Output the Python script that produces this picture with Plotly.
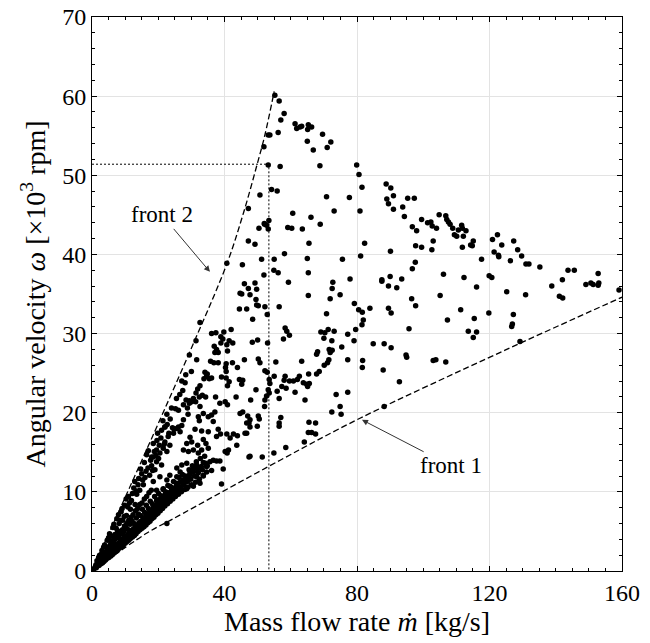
import plotly.graph_objects as go

# ---------------- data ----------------
# x: mass flow rate [kg/s], y: angular velocity [x10^3 rpm]
pts_upper = [(55.2,60.1),(56.5,59.4),(58.0,57.8),(57.0,57.0),(56.2,55.4),(53.2,55.1),(53.7,55.1),(51.9,53.6),
 (61.3,56.5),(61.8,55.9),(62.8,56.1),(63.3,56.2),(65.3,56.4),(66.3,56.1),(65.1,55.8),(69.6,55.2),(65.0,54.3),
 (72.1,54.2),(71.0,53.5),(66.8,53.2),(68.8,51.2),(53.2,51.3),(56.8,51.1),(79.9,51.3),(80.6,50.1),(81.5,48.5),
 (54.2,48.2),(55.9,48.0),(70.8,47.3),(77.7,47.2),(88.8,48.9),(90.2,48.4),(89.0,47.0),(89.5,46.4),(91.0,47.4),
 (91.0,45.7),(95.3,47.1),(97.3,47.1),(93.8,46.0),(94.3,44.8),(80.9,45.5),(73.1,45.5),(60.6,45.2),(66.1,44.7),
 (68.9,43.8),(59.1,43.4),(60.3,43.3),(63.5,43.2),(52.1,43.8),(53.4,44.3),(53.2,43.2),(65.5,41.4),(58.1,40.1),
 (65.0,39.5),(55.0,39.4),(51.2,39.4),(75.6,39.4),(81.1,39.8),(82.3,41.4),(90.1,40.4),(96.7,43.5),(98.0,43.0),
 (99.5,44.4),(101.3,44.0),(102.3,44.1),(102.7,43.6),(104.0,43.3),(104.8,45.0),(106.8,44.9),(107.1,44.4),
 (107.6,44.1),(108.1,43.8),(108.9,43.3),(109.4,42.5),(110.1,42.3),(97.7,41.1),(99.5,40.9),(103.0,41.7),
 (102.6,40.6),(97.6,39.0),(96.7,38.2),(106.1,37.5),(90.0,37.2),(93.5,36.9),(77.9,36.9),(87.5,36.8),(65.3,37.7),
 (54.9,38.0),(56.2,37.7),(51.9,37.4)]

pts_right = [(111.6,43.7),(111.8,43.3),(110.6,43.1),(112.9,43.0),(112.1,42.3),(111.8,40.9),(114.3,41.2),
 (114.8,41.1),(115.1,41.7),(117.6,39.4),(120.9,41.9),(122.4,42.5),(123.7,41.2),(121.4,40.3),(122.7,39.9),
 (122.8,39.7),(127.3,41.7),(128.5,40.6),(129.7,39.8),(126.3,39.2),(131.0,38.8),(131.9,38.8),(135.2,38.4),
 (138.8,36.0),(142.0,36.8),(143.7,38.0),(145.6,38.0),(141.1,34.7),(142.1,34.5),(149.1,36.2),(150.6,36.4),
 (151.3,36.2),(152.8,37.6),(152.8,36.1),(153.0,36.4),(159.1,35.5),(112.3,37.1),(116.1,35.9),(119.9,37.3),
 (120.7,37.1),(125.2,35.3),(130.9,34.9),(105.1,34.8),(111.3,33.0),(107.3,31.7),(115.4,31.9),(119.8,32.6),
 (127.2,32.4),(126.9,31.2),(126.7,30.9),(113.6,30.3),(116.1,30.2),(115.1,29.5),(129.2,29.0)]

pts_middle = [(59.3,36.5),(65.3,34.8),(72.7,36.5),(72.5,35.7),(71.9,34.4),(74.9,34.9),(52.2,33.4),(52.9,32.4),
 (56.5,33.4),(79.2,33.8),(80.5,33.0),(81.6,32.7),(81.9,31.7),(81.5,31.1),(83.9,33.2),(70.8,32.5),(87.5,36.6),
 (89.5,36.0),(92.0,35.8),(96.5,34.4),(97.7,33.5),(89.5,33.2),(90.3,32.6),(95.7,30.6),(58.3,30.7),(58.8,30.3),
 (59.6,29.8),(57.8,29.3),(69.1,30.2),(70.3,30.1),(71.3,30.5),(73.1,30.3),(70.0,29.4),(72.4,29.1),(77.2,29.9),
 (79.6,30.5),(79.1,29.1),(53.0,28.8),(71.6,28.0),(72.5,27.9),(71.9,27.6),(75.4,28.3),(84.9,28.7),(88.2,28.7),
 (90.3,28.2),(94.8,27.3),(95.0,27.0),(103.0,26.6),(103.8,26.7),(106.8,26.4),(68.1,27.7),(67.8,27.4),(71.5,26.7),
 (71.1,26.3),(70.1,26.0),(77.2,26.7),(81.7,26.6),(81.6,25.7),(87.9,25.4),(92.8,23.9),(63.3,26.5),(55.5,26.4),
 (52.2,25.3),(52.9,25.1),(68.6,25.2),(67.8,24.9),(65.4,24.9),(62.6,24.6),(62.0,24.2),(60.8,24.0),(59.6,24.0),
 (58.3,24.6),(58.0,24.1),(57.3,23.3),(58.6,23.1),(55.0,24.6),(63.8,23.8),(64.8,23.6),(65.6,23.7),(65.1,23.3),
 (64.3,21.6),(61.3,22.6),(55.9,22.7),(56.5,21.8),(53.2,22.9),(53.5,22.5),(52.7,22.1),(52.2,21.6),(52.1,20.8),
 (73.7,22.3),(77.2,22.6),(74.9,20.8),(75.2,19.8),(72.4,20.1),(88.2,20.8),(57.0,19.4),(56.5,18.7),(56.5,18.3),
 (65.5,18.8),(67.5,18.7),(65.3,17.5),(66.3,17.5),(67.5,17.3),(64.1,16.3),(58.5,15.6),(54.9,14.9),(51.4,14.4)]

pts_inner = [(46.0,36.3),(47.2,35.7),(49.2,36.4),(49.7,35.6),(44.7,35.1),(45.2,35.0),(47.7,34.9),(49.5,34.3),
 (49.7,33.6),(50.2,33.5),(44.5,33.1),(46.7,33.1),(48.5,31.8),(32.6,31.4),(36.1,30.0),(37.4,30.1),(39.8,30.2),
 (42.0,30.5),(38.9,29.6),(39.5,29.3),(38.9,28.8),(41.4,29.1),(42.5,28.8),(40.7,28.6),(40.9,27.8),(31.4,29.1),
 (36.9,28.4),(37.6,28.0),(38.1,27.6),(37.1,27.6),(48.4,28.9),(50.0,29.2),(29.4,27.3),(31.6,26.7),(35.8,26.5),
 (36.8,26.3),(38.1,26.3),(40.5,26.2),(42.4,26.3),(40.3,25.7),(40.5,25.2),(43.9,25.7),(46.0,26.7),(50.2,26.8),
 (50.7,26.3),(34.1,25.1),(34.8,24.9),(34.6,24.6),(33.8,24.3),(35.4,24.3),(36.1,24.4),(39.1,24.5),(40.5,24.4),
 (41.4,23.9),(40.9,23.4),(44.5,24.2),(45.5,24.1),(45.2,23.6),(27.1,24.0),(28.1,23.8),(32.6,23.4),(31.9,23.0),
 (31.4,22.5),(33.3,22.2),(32.4,22.0),(30.6,21.8),(31.3,21.4),(34.3,22.0),(37.3,22.0),(40.2,21.4),(43.5,22.0),
 (49.5,22.9),(53.5,24.2),(53.7,23.7),(47.9,21.6),(28.4,21.6),(29.4,21.5),(47.2,45.8),(50.7,47.5),(52.0,43.9),
 (52.7,43.7),(50.4,43.3),(47.2,41.7),(49.2,41.3),(40.7,38.9),(45.4,38.7)]

pts_lower = [(27.6,21.0),(29.4,21.2),(28.8,20.6),(30.1,21.4),(32.6,20.8),(33.6,19.9),(32.1,19.5),(32.4,19.0),
 (35.1,19.5),(36.1,19.7),(37.1,20.1),(36.6,18.9),(38.6,21.2),(40.9,21.0),(44.7,19.9),(45.5,20.1),(47.0,19.6),
 (47.7,19.1),(47.4,18.7),(50.2,19.6),(49.9,18.3),(50.5,19.2),(46.7,17.4),(27.6,19.1),(27.1,18.4),(25.6,18.0),
 (24.6,17.4),(26.6,17.6),(31.1,17.9),(33.1,17.7),(35.1,17.6),(38.1,17.9),(38.8,17.3),(37.6,17.0),(40.7,17.3),
 (41.7,16.8),(42.7,17.3),(43.9,17.1),(41.2,15.3),(40.8,14.9),(47.4,14.4),(29.6,16.9),(30.1,16.3),(28.6,16.1),
 (31.9,15.9),(33.6,16.6),(34.4,16.1),(35.1,15.5),(33.1,15.3),(32.1,14.9),(30.6,15.3),(29.1,15.1),(27.6,15.3),
 (23.0,17.0),(22.0,16.3),(23.5,15.9),(21.5,15.5),(22.6,15.1),(20.5,14.9),(19.5,15.3),(18.5,14.4),(36.6,14.0),
 (37.6,13.9),(38.6,13.9),(35.6,13.8),(33.6,13.7),(34.6,13.2),(32.6,13.0),(30.6,13.0),(31.6,13.4),(28.6,13.6),
 (27.1,13.4),(25.6,13.0),(39.6,12.9),(39.1,11.0),(23.5,12.1),(25.6,11.9),(27.6,11.5),(29.6,11.7),(31.6,11.9),
 (33.6,12.1),(34.6,12.5),(36.1,12.7),(29.6,12.5),(26.6,12.5),(22.6,11.5),(20.5,11.9),(18.5,11.3),(19.5,10.2),
 (21.5,10.4),(23.5,10.7),(25.6,10.9),(27.6,11.1),(24.5,10.0),(22.0,9.6),(20.0,9.0),(18.5,8.1),(22.6,9.0),
 (26.6,10.2),(28.6,10.4),(30.6,10.7),(32.6,11.1),(18.0,14.4),(19.5,13.8),(21.0,13.4),(19.0,12.8),(22.6,19.8),
 (22.0,18.2),(26.1,18.2),(46.7,18.7),(47.7,18.2),(46.2,17.4),(47.7,14.5),(43.7,15.9),(40.2,15.1)]

pts_cone = [(0.5,0.2),(0.8,0.4),(1.1,0.6),(1.3,0.4),(1.6,0.7),(1.9,0.9),(2.1,0.7),(2.4,1.1),(2.6,0.9),(2.9,1.3),
 (3.1,1.0),(3.4,1.5),(3.6,1.2),(3.9,1.7),(4.1,1.4),(4.4,1.9),(4.6,1.6),(4.9,2.1),(5.1,1.7),(5.4,2.3),(5.7,1.9),
 (5.9,2.6),(6.2,2.1),(6.5,2.8),(6.7,2.3),(7.0,3.0),(7.3,2.5),(7.5,3.3),(7.8,2.7),(8.1,3.5),(8.3,2.9),(8.6,3.7),
 (8.9,3.1),(9.1,3.9),(9.4,3.2),(9.7,4.2),(10.0,3.5),(10.2,4.4),(10.5,3.7),(10.8,4.6),(11.1,3.9),(11.3,4.9),
 (11.6,4.1),(11.9,5.1),(12.2,4.3),(12.5,5.3),(12.8,4.5),(13.0,5.6),(13.3,4.7),(13.6,5.8),(13.9,5.0),(14.2,6.1),
 (14.5,5.2),(14.8,6.3),(15.1,5.4),(15.4,6.6),(15.7,5.6),(16.0,6.8),(16.3,5.8),(16.6,7.1),(16.9,6.1),(17.2,7.3),
 (17.5,6.3),(17.8,7.6),(18.1,6.6),(18.4,7.8),(18.7,6.8),(19.0,8.1),(19.3,7.1),(19.6,8.4),(19.9,7.3),(20.3,8.7),
 (20.6,7.6),(21.0,9.0),(21.3,7.9),(21.7,9.3),(22.0,8.2),(22.4,9.6),(22.8,8.5),(23.2,9.9),(23.6,8.8),(24.0,10.2),
 (24.4,9.1),(24.8,10.5),(25.2,9.4),(25.7,10.8),(26.1,9.7),(26.6,11.2),(27.0,10.0),(27.5,11.5),(28.0,10.3),
 (28.5,11.8),(29.0,10.6),(29.5,12.2),(30.0,10.9),(30.6,12.5),(31.2,11.2),(31.8,12.9),(32.4,11.6),(33.0,13.2),
 (33.6,12.0),(34.3,13.6),
 (1.2,0.8),(2.0,1.2),(2.7,1.6),(3.3,2.0),(4.0,2.3),(4.7,2.7),(5.3,3.1),(6.0,3.4),(6.6,3.9),(7.2,4.1),(7.9,4.5),
 (8.5,5.0),(9.2,5.2),(9.8,5.7),(10.5,6.0),(11.1,6.4),(11.8,6.8),(12.4,7.1),(13.1,7.6),(13.8,7.9),(14.4,8.4),
 (15.1,8.6),(15.8,9.1),(16.5,9.4),(17.2,9.9),(17.9,10.2),
 (1.5,1.3),(2.3,2.0),(3.0,2.6),(3.8,3.3),(4.4,3.0),(5.0,4.2),(5.6,3.8),(6.3,5.5),(6.9,4.6),(7.5,6.6),(7.7,5.1),
 (8.2,6.0),(8.8,7.5),(9.3,6.4),(9.9,8.3),(10.4,7.0),(11.0,9.4),(11.6,7.8),(11.9,8.9),(12.6,10.5),(13.0,8.4),
 (13.5,9.7),(14.1,11.7),(14.4,10.2),(15.0,12.3),(15.5,10.9),(16.0,11.8),(16.5,14.7),(16.9,13.0),(17.4,12.1),
 (18.0,13.3),(18.5,16.1),(19.3,14.6),(19.8,17.4),(20.3,15.9),(20.8,16.8),(21.4,19.0),(22.0,18.2),(23.2,17.4),
 (24.0,20.6),(24.8,17.9),(25.5,21.8),(26.1,20.3),(22.6,6.0)]

pts_cone_extra = [(2.5,1.4),(3.2,1.1),(3.7,2.3),(4.2,1.8),(4.8,2.9),(5.2,2.0),(5.5,3.3),(6.1,2.5),(6.4,3.0),
 (6.8,3.5),(7.1,2.7),(7.4,4.4),(7.9,3.2),(8.4,4.1),(8.7,3.3),(9.0,4.7),(9.5,3.6),(9.6,5.0),(10.1,4.0),(10.3,5.5),
 (10.7,4.3),(11.0,5.2),(11.4,4.5),(11.5,5.9),(12.0,4.8),(12.1,6.3),(12.6,5.0),(12.7,6.0),(13.2,5.3),(13.4,6.7),
 (13.7,5.5),(14.0,7.2),(14.3,5.8),(14.6,7.0),(14.9,6.0),(15.2,7.8),(15.6,6.2),(15.9,7.4),(16.2,6.5),(16.4,8.3),
 (16.8,6.7),(17.0,7.9),(17.4,6.9),(17.6,8.8),(18.0,7.2),(18.2,8.5),(18.6,7.4),(18.9,9.4),(19.2,7.7),(19.5,8.9),
 (19.8,7.9),(20.1,9.8),(20.4,8.2),(20.8,9.5),(21.2,8.5),(21.5,10.3),(21.9,8.8),(22.2,10.0),(22.6,9.1),(22.9,10.8),
 (23.4,9.4),(23.8,10.6),(24.2,9.7),(24.6,11.3),(25.0,10.0),(25.5,11.1),(25.9,10.3),(26.3,11.8),(26.8,10.6),
 (27.3,12.2),(27.8,10.9),(28.2,12.0),(28.8,11.3),(29.3,12.8),(29.8,11.6),(30.3,13.3),(30.9,12.0),(31.5,13.8),
 (32.1,12.4),(32.7,14.2),(33.3,12.8),(34.0,14.5),(34.8,13.3),
 (2.0,1.7),(2.8,2.1),(3.5,3.0),(4.6,3.9),(5.3,4.7),(6.0,4.4),(6.6,5.9),(7.3,5.4),(8.0,7.1),(8.5,6.4),(9.1,7.9),
 (9.7,6.9),(10.3,9.1),(10.8,8.1),(11.3,8.6),(12.2,9.8),(12.9,11.3),(13.3,10.1),(13.9,10.9),(14.7,12.9),
 (15.3,11.5),(15.8,13.7),(16.3,12.6),(17.0,15.2),(17.7,14.0),(18.3,12.7),(18.8,15.1),(19.6,16.5),(20.1,14.2),
 (21.0,17.8),(21.8,16.0),(22.7,18.5),(23.6,19.2),(24.3,18.1),(25.2,20.5),(26.5,22.3),(27.4,22.8),(28.3,24.8),
 (29.0,19.8),(30.0,25.2)]

# fronts (dashed curves) and the dotted guide lines
front2_m = [0, 20.5, 31.7, 40.8, 45.7, 49.8, 52.2, 55.0]
front2_w = [0, 19.1, 29.8, 38.9, 45.2, 51.3, 55.1, 60.6]
front1_m = [0, 16.6, 24.5, 56.8, 80.9, 124.7, 160]
front1_w = [0, 4.8, 6.6, 14.0, 19.3, 27.9, 34.6]
guide_m = [0, 53.4, 53.4]
guide_w = [51.4, 51.4, 0]

x_ticks = [0, 40, 80, 120, 160]
y_ticks = [0, 10, 20, 30, 40, 50, 60, 70]

# ---------------- figure ----------------
all_pts = pts_upper + pts_right + pts_middle + pts_inner + pts_lower + pts_cone + pts_cone_extra
m_vals = [p[0] for p in all_pts]
w_vals = [p[1] for p in all_pts]

FONT = "Liberation Serif"
fig = go.Figure()
fig.add_trace(go.Scatter(x=guide_m, y=guide_w, mode="lines",
                         line=dict(color="black", width=1, dash="2px,2px"), hoverinfo="skip"))
fig.add_trace(go.Scatter(x=front2_m, y=front2_w, mode="lines", line_shape="spline",
                         line=dict(color="black", width=1.3, dash="6px,3px"), hoverinfo="skip"))
fig.add_trace(go.Scatter(x=front1_m, y=front1_w, mode="lines", line_shape="spline",
                         line=dict(color="black", width=1.3, dash="6px,3px"), hoverinfo="skip"))
fig.add_trace(go.Scatter(x=m_vals, y=w_vals, mode="markers",
                         marker=dict(color="black", size=5.5, line=dict(width=0))))

# labels with arrows (text sits at the arrow tail)
fig.add_annotation(x=35.6, y=37.8, ax=21.1, ay=45.0, axref="x", ayref="y", text="front 2",
                   font=dict(family=FONT, size=23, color="black"),
                   showarrow=True, arrowhead=2, arrowsize=1.2, arrowwidth=1, arrowcolor="#333")
fig.add_annotation(x=81.5, y=19.1, ax=108.3, ay=13.3, axref="x", ayref="y", text="front 1",
                   font=dict(family=FONT, size=23, color="black"),
                   showarrow=True, arrowhead=2, arrowsize=1.2, arrowwidth=1, arrowcolor="#333")

axis_common = dict(showline=True, linecolor="black", linewidth=1, mirror="allticks",
                   ticks="inside", ticklen=5, tickcolor="black", showgrid=True,
                   gridcolor="#e3e3e3", gridwidth=1, zeroline=False, automargin=False,
                   tickfont=dict(family=FONT, size=24, color="black"))
fig.update_xaxes(range=[0, 160], tickvals=x_ticks,
                 minor=dict(dtick=5, ticks="inside", ticklen=3, tickcolor="black", showgrid=False),
                 title=dict(text="Mass flow rate <i>ṁ</i> [kg/s]", font=dict(family=FONT, size=28, color="black"), standoff=4),
                 **axis_common)
fig.update_yaxes(range=[0, 70], tickvals=y_ticks,
                 minor=dict(dtick=2, ticks="inside", ticklen=3, tickcolor="black", showgrid=False),
                 title=dict(text="Angular velocity <i>ω</i> [×10<sup>3</sup> rpm]", font=dict(family=FONT, size=28, color="black"), standoff=8),
                 **axis_common)
fig.update_layout(width=650, height=643, showlegend=False, plot_bgcolor="white", paper_bgcolor="white",
                  margin=dict(l=92, r=28, t=17, b=72))
# remove the default 8px page margin so the figure fills the window exactly
fig.write_html("out.html", config={"displayModeBar": False},
               post_script="document.body.style.margin='0px';")
